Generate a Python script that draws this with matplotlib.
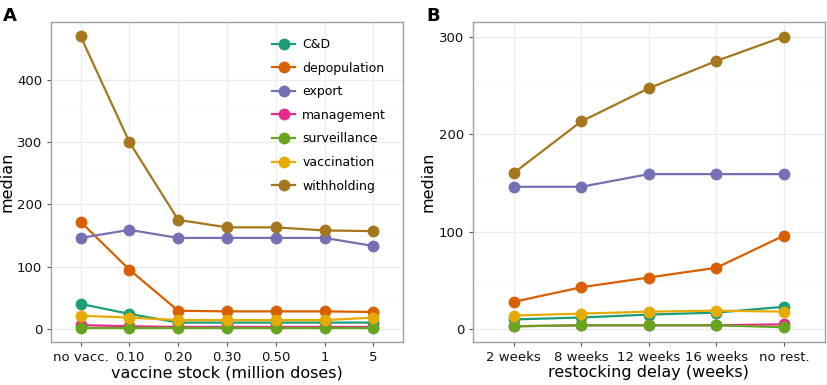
import matplotlib.pyplot as plt

# panel A: vaccine stock
stock_labels = ["no vacc.", "0.10", "0.20", "0.30", "0.50", "1", "5"]
a_cd = [40, 24, 10, 10, 10, 10, 10]
a_depop = [172, 95, 29, 28, 28, 28, 27]
a_export = [146, 159, 146, 146, 146, 146, 133]
a_mgmt = [6, 4, 3, 3, 3, 3, 3]
a_surv = [2, 2, 2, 2, 2, 2, 2]
a_vacc = [21, 18, 14, 14, 14, 14, 18]
a_withh = [470, 300, 175, 163, 163, 158, 157]

# panel B: restocking delay
delay_labels = ["2 weeks", "8 weeks", "12 weeks", "16 weeks", "no rest."]
b_cd = [10, 12, 15, 17, 23]
b_depop = [28, 43, 53, 63, 96]
b_export = [146, 146, 159, 159, 159]
b_mgmt = [3, 4, 4, 4, 5]
b_surv = [3, 4, 4, 4, 2]
b_vacc = [14, 16, 18, 19, 18]
b_withh = [160, 213, 247, 275, 300]

names = ["C&D", "depopulation", "export", "management", "surveillance",
         "vaccination", "withholding"]
colors = ["#1B9E77", "#D95F02", "#7570B3", "#E7298A", "#66A61E",
          "#E6AB02", "#A6761D"]

fig = plt.figure(figsize=(8.27, 3.85), dpi=100)
axA = fig.add_axes([0.062, 0.112, 0.425, 0.831])
axB = fig.add_axes([0.572, 0.112, 0.425, 0.831])


def style(ax, labels, yticks, ylim, xlabel):
    ax.set_facecolor("white")
    for s in ax.spines.values():
        s.set_color("#a0a0a0")
        s.set_linewidth(1.0)
    ax.set_xlim(-0.6, len(labels) - 1 + 0.6)
    ax.set_ylim(*ylim)
    ax.set_xticks(range(len(labels)))
    ax.set_xticklabels(labels)
    ax.set_yticks(yticks)
    minor = [(yticks[i] + yticks[i + 1]) / 2 for i in range(len(yticks) - 1)]
    ax.set_yticks(minor, minor=True)
    ax.grid(True, which="major", color="#ebebeb", linewidth=0.8)
    ax.grid(True, which="minor", axis="y", color="#f5f5f5", linewidth=0.5)
    ax.tick_params(axis="y", which="minor", length=0)
    ax.set_axisbelow(True)
    ax.tick_params(labelsize=9.5, length=3, color="#555555")
    for t in ax.get_xticklabels() + ax.get_yticklabels():
        t.set_color("#111111")
    ax.set_xlabel(xlabel, fontsize=11.5, labelpad=1)
    ax.set_ylabel("median", fontsize=11.5, labelpad=2)


seriesA = [a_cd, a_depop, a_export, a_mgmt, a_surv, a_vacc, a_withh]
seriesB = [b_cd, b_depop, b_export, b_mgmt, b_surv, b_vacc, b_withh]

for vals, name, c in zip(seriesA, names, colors):
    axA.plot(range(len(stock_labels)), vals, color=c, lw=1.6, marker="o",
             ms=7.5, label=name)
for vals, name, c in zip(seriesB, names, colors):
    axB.plot(range(len(delay_labels)), vals, color=c, lw=1.6, marker="o",
             ms=7.5, label=name)

style(axA, stock_labels, [0, 100, 200, 300, 400], (-21, 493),
      "vaccine stock (million doses)")
style(axB, delay_labels, [0, 100, 200, 300], (-13, 315),
      "restocking delay (weeks)")

axA.legend(loc="upper right", bbox_to_anchor=(0.985, 0.985), frameon=False,
           fontsize=9, handlelength=1.8, labelspacing=0.85,
           handletextpad=0.6)

fig.text(0.004, 0.945, "A", fontsize=13, fontweight="bold")
fig.text(0.516, 0.945, "B", fontsize=13, fontweight="bold")

fig.savefig("out.png", dpi=100)
